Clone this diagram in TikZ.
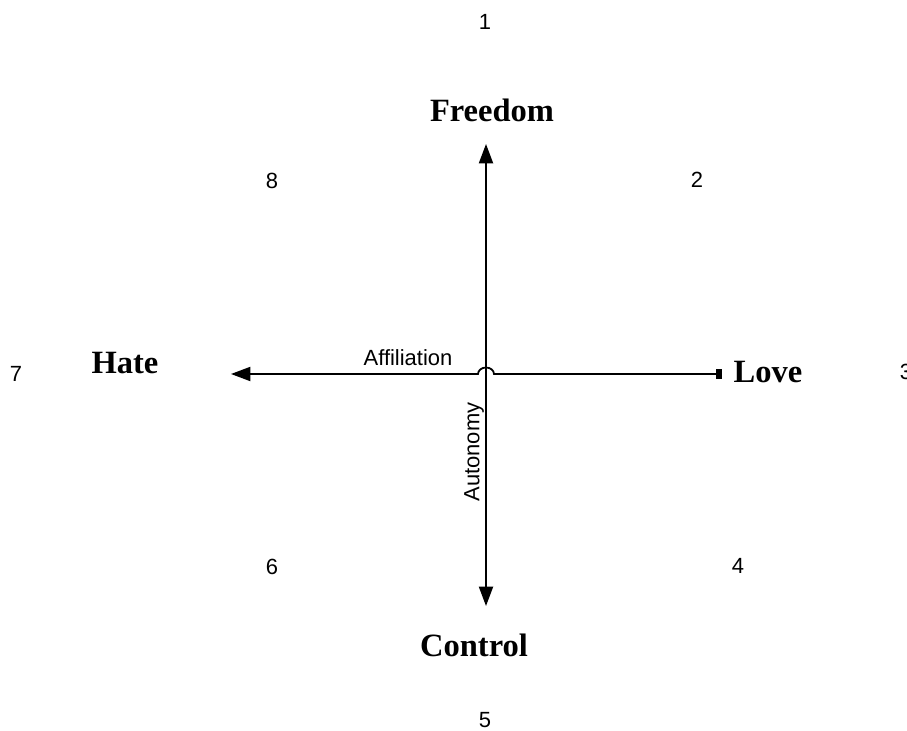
\documentclass[tikz,border=0pt]{standalone}
\usepackage{fontspec}
\setmainfont{Liberation Serif}
\newfontfamily\numfont{Liberation Sans}
\usetikzlibrary{arrows.meta}

\begin{document}
\begin{tikzpicture}[
    pole/.style={
        inner sep=0pt,
        font=\fontsize{18.5}{20}\selectfont\bfseries
    },
    octant/.style={
        inner sep=0pt,
        font=\numfont\fontsize{12.5}{14}\selectfont
    },
    axislabel/.style={
        inner sep=0pt,
        font=\numfont\fontsize{12.5}{14}\selectfont
    },
    axis/.style={line width=1pt}
]
\useasboundingbox (0,0) rectangle (18.14,-14.62);

% ends of the two axes
\coordinate (top) at (9.72,-2.88);
\coordinate (bottom) at (9.72,-12.12);
\coordinate (left) at (4.62,-7.48);
\coordinate (right) at (14.44,-7.48);
\coordinate (hop) at (9.56,-7.48);

\node[pole] (freedom) at (9.84,-2.20) {Freedom};
\node[pole] (control) at (9.48,-12.90) {Control};
\node[pole] (hate) at (2.50,-7.26) {Hate};
\node[pole] (love) at (15.36,-7.44) {Love};

\node[axislabel] (affil) at (8.16,-7.16) {Affiliation};
\node[axislabel, rotate=90] (auton) at (9.48,-9.04) {Autonomy};

\node[octant] (n1) at (9.70,-0.44) {1};
\node[octant] (n2) at (13.94,-3.60) {2};
\node[octant] (n3) at (18.12,-7.44) {3};
\node[octant] (n4) at (14.76,-11.32) {4};
\node[octant] (n5) at (9.70,-14.40) {5};
\node[octant] (n6) at (5.44,-11.34) {6};
\node[octant] (n7) at (0.32,-7.48) {7};
\node[octant] (n8) at (5.44,-3.62) {8};

\draw[axis, {Triangle[length=11pt,width=8pt]}-{Triangle[length=11pt,width=8pt]}] (top) -- (bottom);
\draw[axis, {Triangle[length=11pt,width=8pt]}-{Rectangle[length=3.4pt,width=5.7pt]}]
    (left) -- (hop) arc[start angle=180, end angle=0, x radius=0.16cm, y radius=0.13cm] -- (right);

\end{tikzpicture}
\end{document}
